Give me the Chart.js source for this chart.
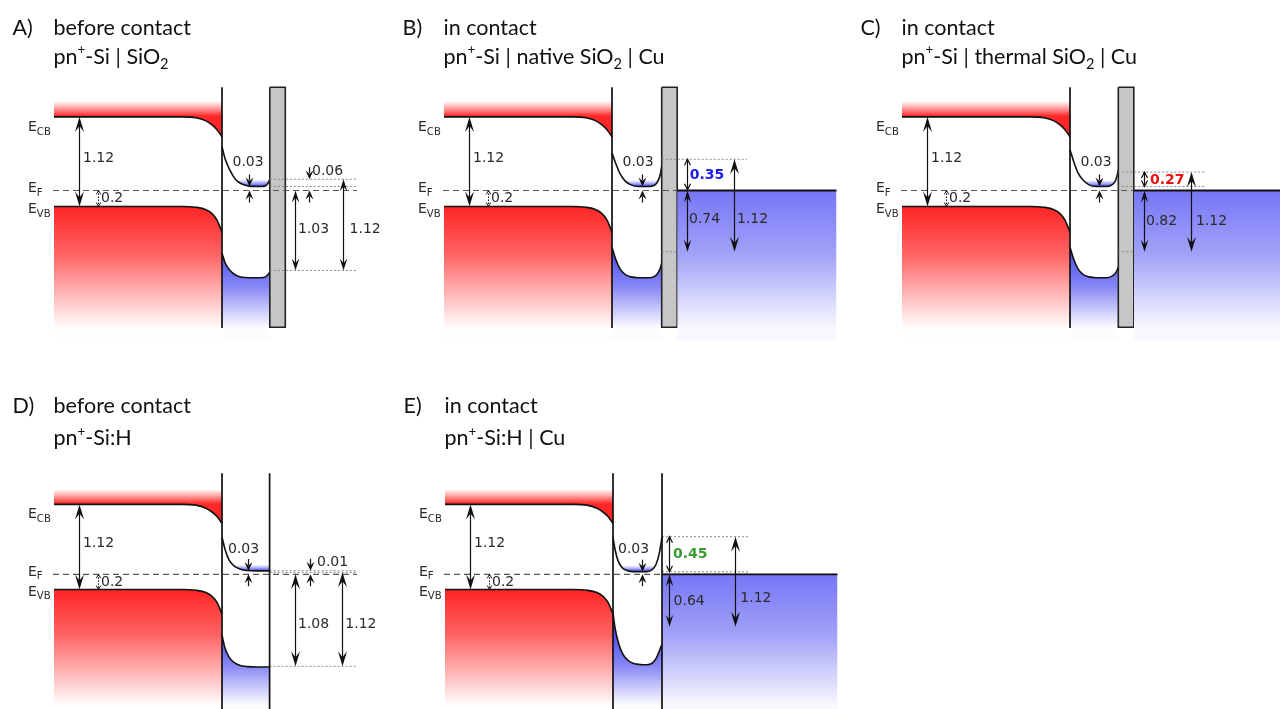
<!DOCTYPE html>
<html lang="en">
<head>
<meta charset="UTF-8">
<title>Band diagrams pn+-Si</title>
<script src="https://cdn.jsdelivr.net/npm/chart.js"></script>
<style>
  html, body { margin: 0; padding: 0; background: #fff; overflow: hidden; }
  body { width: 1280px; height: 709px; position: relative; }
  canvas { position: absolute; }
</style>
</head>
<body>
<canvas id="chartA"></canvas>
<canvas id="chartB"></canvas>
<canvas id="chartC"></canvas>
<canvas id="chartD"></canvas>
<canvas id="chartE"></canvas>
<script>
// energies in eV relative to E_F, x = position (0 = Si surface)
const E_CB = 0.92, E_F = 0, E_VB = -0.2, CB_TOP = 1.11;

// bulk Si band bending (same in every panel)
const siX  = [-168, -40, -26, -16, -10, -5, 0];
const siCB = [0.92, 0.92, 0.91, 0.87, 0.82, 0.76, 0.67];
const siVB = [-0.2, -0.2, -0.21, -0.24, -0.29, -0.37, -0.52];
const siLabels = [['E_{CB}', -194, 0.74], ['E_{F}', -194, -0.02], ['E_{VB}', -194, -0.28],
                  ['1.12', -139, 0.36], ['0.2', -121, -0.15]];
const siArrows = [[-143.5, E_CB, E_VB, 'big'], [-124.5, E_F, E_VB, 'tiny']];

// A) before contact, pn+-Si | SiO2
const wellXA  = [0, 3, 8, 14, 20, 27, 39, 43.5, 46, 47.8];
const wellCBA = [0.55, 0.40, 0.25, 0.13, 0.08, 0.055, 0.05, 0.06, 0.09, 0.14];
const wellVBA = [-0.78, -0.90, -1.00, -1.06, -1.085, -1.09, -1.09, -1.08, -1.05, -1.02];
const dottedA = [[0.14, 47.8, 135], [0.05, 47.8, 135], [-1.0, 47.8, 135]];
const arrowsA = [[26.6, 0.05, 0, 'pinch'], [86.8, 0.14, 0, 'pinch'], [73.3, 0, -1.0, 'mid'], [121, 0.14, -1.0, 'mid']];
const labelsA = [['0.03', 10.5, 0.305], ['0.06', 90, 0.19], ['1.03', 76, -0.53], ['1.12', 127.6, -0.53]];

// B) in contact, native SiO2 | Cu
const wellXB  = [0, 4, 8, 13, 19, 26, 38, 43, 46, 48.3, 49.7];
const wellCBB = [0.47, 0.33, 0.21, 0.12, 0.07, 0.05, 0.05, 0.07, 0.12, 0.20, 0.30];
const wellVBB = [-0.71, -0.87, -0.98, -1.05, -1.08, -1.09, -1.09, -1.07, -1.03, -0.97, -0.91];
const dottedB = [[0.39, 49.7, 135], [-0.765, 49.7, 135]];
const arrowsB = [[30, 0.05, 0, 'pinch'], [75, 0.39, 0.01, 'small'], [75, 0, -0.765, 'mid'], [122, 0.39, -0.765, 'big']];
const labelsB = [['0.03', 10.5, 0.30], ['0.35', 77.7, 0.14, '#1c1ce6'], ['0.74', 77, -0.41], ['1.12', 125, -0.41]];

// C) in contact, thermal SiO2 | Cu
const wellXC  = [0, 4, 8, 13, 19, 26, 37, 42, 45, 47, 48.3];
const wellCBC = [0.51, 0.35, 0.22, 0.13, 0.07, 0.05, 0.05, 0.07, 0.11, 0.18, 0.26];
const wellVBC = [-0.71, -0.87, -0.98, -1.05, -1.08, -1.09, -1.09, -1.07, -1.04, -1.00, -0.96];
const dottedC = [[0.23, 48.3, 135], [0.05, 48.3, 135], [-0.765, 48.3, 135]];
const arrowsC = [[29.3, 0.05, 0, 'pinch'], [74.3, 0.23, 0.05, 'small'], [74, 0, -0.765, 'mid'], [121, 0.23, -0.765, 'big']];
const labelsC = [['0.03', 10.5, 0.30], ['0.27', 80, 0.08, '#ee1111'], ['0.82', 76, -0.43], ['1.12', 126, -0.43]];

// D) before contact, pn+-Si:H
const wellXD  = [0, 3, 7, 12, 18, 25, 35, 47.6];
const wellCBD = [0.49, 0.33, 0.19, 0.11, 0.07, 0.05, 0.045, 0.045];
const wellVBD = [-0.80, -0.97, -1.09, -1.16, -1.20, -1.215, -1.22, -1.22];
const dottedD = [[0.047, 47.6, 135], [0.026, 47.6, 135], [-1.21, 47.6, 135]];
const arrowsD = [[26, 0.045, 0, 'pinch'], [88.3, 0.047, 0, 'pinch'], [73.3, 0, -1.21, 'big'], [120, 0.026, -1.21, 'big']];
const labelsD = [['0.03', 6, 0.28], ['0.01', 95, 0.11], ['1.08', 76, -0.70], ['1.12', 123.3, -0.70]];

// E) in contact, pn+-Si:H | Cu
const wellXE  = [0, 2, 5, 9, 14, 20, 34, 39, 43, 46, 48, 49];
const wellCBE = [0.49, 0.33, 0.18, 0.09, 0.05, 0.035, 0.035, 0.06, 0.13, 0.26, 0.40, 0.49];
const wellVBE = [-0.51, -0.70, -0.88, -1.03, -1.12, -1.17, -1.19, -1.17, -1.11, -1.02, -0.95, -0.92];
const dottedE = [[0.495, 49, 135], [0.034, 49, 135], [-0.69, 49, 135]];
const arrowsE = [[29, 0.035, 0, 'pinch'], [55.6, 0.495, 0.034, 'small'], [55.6, 0, -0.69, 'mid'], [122.3, 0.495, -0.69, 'big']];
const labelsE = [['0.03', 5, 0.28], ['0.45', 60, 0.22, '#3a9a32'], ['0.64', 60.6, -0.40], ['1.12', 127.3, -0.37]];

const ROW1 = { top: 0, height: 340, yMin: -1.869, yMax: 2.381, titleY: [34.5, 63.5], lineTop: 1.29, lineBot: -1.72 };
const ROW2 = { top: 379, height: 330, yMin: -1.772, yMax: 2.570, titleY: [34.3, 66], lineTop: 1.33, lineBot: -1.8 };
const X_MIN = -222;

const panels = [
  { id: 'A', tag: 'A)', title: ['before contact', 'pn^{+}-Si | SiO_{2}'], row: ROW1, left: 0, width: 390,
    wall: 47.8, oxide: true, metal: null, wx: wellXA, wcb: wellCBA, wvb: wellVBA, band: 0.14,
    dotted: dottedA, arrows: arrowsA, labels: labelsA },
  { id: 'B', tag: 'B)', title: ['in contact', 'pn^{+}-Si | native SiO_{2} | Cu'], row: ROW1, left: 390, width: 455,
    wall: 49.7, oxide: true, metal: 224.5, wx: wellXB, wcb: wellCBB, wvb: wellVBB, band: 0.13,
    dotted: dottedB, arrows: arrowsB, labels: labelsB },
  { id: 'C', tag: 'C)', title: ['in contact', 'pn^{+}-Si | thermal SiO_{2} | Cu'], row: ROW1, left: 848, width: 432,
    wall: 48.3, oxide: true, metal: 240, wx: wellXC, wcb: wellCBC, wvb: wellVBC, band: 0.13,
    dotted: dottedC, arrows: arrowsC, labels: labelsC },
  { id: 'D', tag: 'D)', title: ['before contact', 'pn^{+}-Si:H'], row: ROW2, left: 0, width: 390,
    wall: 47.6, oxide: false, metal: null, wx: wellXD, wcb: wellCBD, wvb: wellVBD, band: 0.13,
    dotted: dottedD, arrows: arrowsD, labels: labelsD },
  { id: 'E', tag: 'E)', title: ['in contact', 'pn^{+}-Si:H | Cu'], row: ROW2, left: 391, width: 455,
    wall: 49, oxide: false, metal: 224.5, wx: wellXE, wcb: wellCBE, wvb: wellVBE, band: 0.12,
    dotted: dottedE, arrows: arrowsE, labels: labelsE }
];

function pts(xs, ys) { return xs.map((x, i) => ({ x: x, y: ys[i] })); }

// vertical gradient given as [energy, colour] stops
function grad(stops) {
  return function (ctx) {
    const ch = ctx.chart;
    if (!ch.chartArea) return 'transparent';
    const sy = ch.scales.y;
    const p0 = sy.getPixelForValue(stops[0][0]);
    const p1 = sy.getPixelForValue(stops[stops.length - 1][0]);
    const g = ch.ctx.createLinearGradient(0, p0, 0, p1);
    stops.forEach(s => g.addColorStop((sy.getPixelForValue(s[0]) - p0) / (p1 - p0), s[1]));
    return g;
  };
}

function line(data, extra) {
  return Object.assign({ data: data, pointRadius: 0, pointHitRadius: 0, borderColor: '#111',
    borderWidth: 1.6, fill: false, tension: 0 }, extra);
}

function richText(c, str, x, y, size, family, weight, color, subSize) {
  const parts = str.match(/\^\{[^}]*\}|_\{[^}]*\}|[^^_]+/g);
  c.fillStyle = color;
  c.textBaseline = 'alphabetic';
  c.textAlign = 'left';
  parts.forEach(p => {
    let s = size, dy = 0, t = p;
    if (p[0] === '^') { t = p.slice(2, -1); s = size * 0.62; dy = -size * 0.42; }
    else if (p[0] === '_') { t = p.slice(2, -1); s = size * (subSize || 0.68); dy = size * 0.26; }
    c.font = weight + ' ' + s + 'px ' + family;
    c.fillText(t, x, y + dy);
    x += c.measureText(t).width;
  });
}

function head(c, x, tip, dir, w, len, filled) {
  c.beginPath();
  if (filled) {
    c.moveTo(x, tip);
    c.lineTo(x - w / 2, tip - dir * len);
    c.lineTo(x, tip - dir * len * 0.6);
    c.lineTo(x + w / 2, tip - dir * len);
    c.closePath();
    c.fill();
  } else {
    c.moveTo(x - w / 2, tip - dir * len);
    c.lineTo(x, tip);
    c.lineTo(x + w / 2, tip - dir * len);
    c.stroke();
  }
}

function overlay(p) {
  return {
    id: 'overlay' + p.id,
    afterDatasetsDraw(chart) {
      const c = chart.ctx, sx = chart.scales.x, sy = chart.scales.y;
      c.save();
      // titles
      richText(c, p.tag, sx.getPixelForValue(-209.5), p.row.titleY[0], 21.5, 'Lato', 'normal', '#111');
      richText(c, p.title[0], sx.getPixelForValue(-168.5), p.row.titleY[0], 21.5, 'Lato', 'normal', '#111');
      richText(c, p.title[1], sx.getPixelForValue(-168.5), p.row.titleY[1], 21.5, 'Lato', 'normal', '#111');
      // arrows
      c.strokeStyle = '#111';
      c.fillStyle = '#111';
      siArrows.concat(p.arrows).forEach(a => {
        const x = Math.round(sx.getPixelForValue(a[0])) + 0.5;
        const yA = sy.getPixelForValue(a[1]), yB = sy.getPixelForValue(a[2]);
        const st = a[3];
        c.lineWidth = 1.2;
        c.setLineDash([]);
        if (st === 'pinch') {
          head(c, x, yA, 1, 8, 9, true);
          head(c, x, yB, -1, 8, 9, true);
          c.beginPath();
          c.moveTo(x, yA - 12); c.lineTo(x, yA - 6);
          c.moveTo(x, yB + 6); c.lineTo(x, yB + 12);
          c.stroke();
          return;
        }
        const sz = { big: [9, 15, true], mid: [7.5, 12, true], small: [6, 6, false], tiny: [4.5, 4, false] }[st];
        if (st === 'tiny') { c.setLineDash([1.5, 1.5]); c.lineWidth = 1; }
        c.beginPath();
        c.moveTo(x, yA + (sz[2] ? sz[1] * 0.5 : 0));
        c.lineTo(x, yB - (sz[2] ? sz[1] * 0.5 : 0));
        c.stroke();
        c.setLineDash([]);
        head(c, x, yA, -1, sz[0], sz[1], sz[2]);
        head(c, x, yB, 1, sz[0], sz[1], sz[2]);
      });
      // labels
      siLabels.concat(p.labels).forEach(l => {
        const bold = l.length > 3;
        const isE = l[0][0] === 'E';
        richText(c, l[0], sx.getPixelForValue(l[1]), sy.getPixelForValue(l[2]), isE ? 14 : 14,
          '"DejaVu Sans"', bold ? 'bold' : 'normal', bold ? l[3] : '#2a2a2a', 0.72);
      });
      c.restore();
    }
  };
}

function buildChart(p) {
  const cv = document.getElementById('chart' + p.id);
  cv.width = p.width;
  cv.height = p.row.height;
  cv.style.left = p.left + 'px';
  cv.style.top = p.row.top + 'px';
  const r = p.row;
  const sets = [];
  // conduction band of bulk Si with red band above
  sets.push(line(pts(siX, siCB), { cubicInterpolationMode: 'monotone', fill: { value: CB_TOP },
    backgroundColor: grad([[CB_TOP, 'rgba(255,70,70,0.06)'], [E_CB + 0.01, 'rgb(255,40,40)'], [0.5, 'rgb(255,30,30)']]) }));
  // valence band of bulk Si, filled red
  sets.push(line(pts(siX, siVB), { cubicInterpolationMode: 'monotone', fill: 'start',
    backgroundColor: grad([[E_VB, 'rgb(255,36,36)'], [-0.8, 'rgb(255,100,100)'], [-1.72, 'rgb(255,253,253)']]) }));
  // surface well, valence side (blue)
  sets.push(line(pts(p.wx, p.wvb), { cubicInterpolationMode: 'monotone', fill: 'start',
    backgroundColor: grad([[-0.72, 'rgb(70,70,238)'], [-1.2, 'rgb(135,135,245)'], [-1.72, 'rgb(252,252,255)']]) }));
  // surface well, conduction side with thin blue electron layer
  const bottom = Math.min.apply(null, p.wcb);
  sets.push(line(pts(p.wx, p.wcb), { cubicInterpolationMode: 'monotone', fill: { value: p.band },
    backgroundColor: grad([[bottom, 'rgba(45,45,235,0.95)'], [p.band, 'rgba(120,120,255,0)']]) }));
  // oxide layer
  if (p.oxide) {
    const ox = [p.wall, p.wall + 15.5, p.wall + 15.5, p.wall, p.wall];
    const oy = [r.lineTop, r.lineTop, r.lineBot + 0.01, r.lineBot + 0.01, r.lineTop];
    sets.push(line(pts(ox, oy), { fill: 'shape', backgroundColor: '#c6c6c6', borderWidth: 1.6, borderColor: '#222' }));
  }
  // dotted reference levels
  p.dotted.forEach(d => {
    sets.push(line(pts([d[1], d[2]], [d[0], d[0]]), { borderColor: '#8a8a8a', borderWidth: 1, borderDash: [2, 2] }));
  });
  // Fermi level
  sets.push(line(pts([-169, 135], [E_F, E_F]), { borderColor: '#555', borderWidth: 1.2, borderDash: [6, 4] }));
  // metal (Cu) Fermi sea
  if (p.metal) {
    const mx0 = p.oxide ? p.wall + 15.5 : p.wall;
    sets.push(line(pts([mx0, p.metal], [E_F, E_F]), { borderWidth: 1.8, fill: 'start',
      backgroundColor: grad([[E_F, 'rgb(118,118,246)'], [-0.8, 'rgb(162,162,248)'], [-1.72, 'rgb(248,248,255)']]) }));
  }
  // Si surface
  sets.push(line(pts([0, 0], [r.lineTop, r.lineBot]), { borderWidth: 1.7 }));
  if (!p.oxide) {
    sets.push(line(pts([p.wall, p.wall], [r.lineTop, r.lineBot]), { borderWidth: 1.7 }));
  }
  sets.forEach((s, i) => { s.order = sets.length - i; });

  return new Chart(cv, {
    type: 'line',
    data: { datasets: sets },
    options: {
      responsive: false,
      animation: false,
      events: [],
      layout: { padding: 0 },
      scales: {
        x: { type: 'linear', min: X_MIN, max: X_MIN + p.width, display: false },
        y: { type: 'linear', min: r.yMin, max: r.yMax, display: false }
      },
      plugins: { legend: { display: false }, tooltip: { enabled: false } }
    },
    plugins: [overlay(p)]
  });
}

panels.forEach(buildChart);
</script>
</body>
</html>
